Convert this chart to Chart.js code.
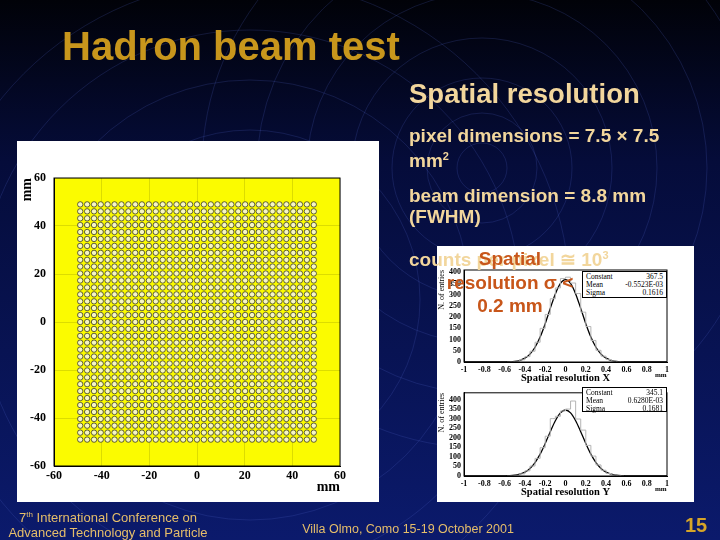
<!DOCTYPE html>
<html>
<head>
<meta charset="utf-8">
<script src="https://cdn.jsdelivr.net/npm/chart.js@4.4.1/dist/chart.umd.min.js"></script>
<style>
html, body { margin: 0; padding: 0; background: #000; }
#slide { position: relative; width: 720px; height: 540px; overflow: hidden; font-family: 'Liberation Sans', Arial, sans-serif; }
#bg { position: absolute; left: 0; top: 0; }
.t { position: absolute; white-space: nowrap; }
.title { left: 62px; top: 26px; font-size: 40px; line-height: 40px; font-weight: bold; color: #c8961c; }
.sub { left: 409px; top: 80px; font-size: 27.5px; line-height: 27px; font-weight: bold; color: #f2d69c; }
.bul { left: 409px; font-size: 19px; line-height: 19px; font-weight: bold; color: #f2d69c; }
.orange { font-size: 19px; line-height: 19px; font-weight: bold; color: #c8561a; text-align: center; width: 160px; left: 430px; }
.frame { position: absolute; background: #fff; }
.stats { position: absolute; background: #fff; border: 1px solid #000; font-family: 'Liberation Serif', serif; font-size: 7.5px; line-height: 8px; color: #000; box-sizing: border-box; padding: 1px 3px; }
.stats div { display: flex; justify-content: space-between; }
.unit { position: absolute; font-family: 'Liberation Serif', serif; font-size: 7px; font-weight: bold; color: #000; }
.foot { color: #e6be6a; font-size: 13px; line-height: 15px; text-align: center; }
canvas.chart { position: absolute; }
</style>
</head>
<body>
<div id="slide">
  <canvas id="bg" width="720" height="540"></canvas>

  <div class="t title">Hadron beam test</div>
  <div class="t sub">Spatial resolution</div>
  <div class="t bul" style="top:126px">pixel dimensions = 7.5 × 7.5</div>
  <div class="t bul" style="top:147px">mm<sup style="font-size:11px">2</sup></div>
  <div class="t bul" style="top:186px">beam dimension = 8.8 mm</div>
  <div class="t bul" style="top:207px">(FWHM)</div>

  <div class="frame" style="left:17px;top:141px;width:362px;height:361px;">
    <canvas id="mapChart" class="chart" width="362" height="361" style="left:0;top:0"></canvas>
  </div>

  <div class="frame" style="left:437px;top:246px;width:257px;height:256px;"></div>
  <canvas id="histX" class="chart" width="257" height="125" style="left:437px;top:262px"></canvas>
  <canvas id="histY" class="chart" width="257" height="117" style="left:437px;top:385px"></canvas>
  <div class="stats" id="statsX" style="left:582px;top:271px;width:85px;height:27px;"></div>
  <div class="stats" id="statsY" style="left:582px;top:387px;width:85px;height:25px;"></div>
  <div class="unit" style="left:655px;top:371px">mm</div>
  <div class="unit" style="left:655px;top:485px">mm</div>

  <div class="t bul" style="top:246px">counts per pixel ≅ 10<sup style="font-size:11px">3</sup></div>
  <div class="t orange" style="top:249px">Spatial</div>
  <div class="t orange" style="top:273px">resolution σ &lt;</div>
  <div class="t orange" style="top:296px">0.2 mm</div>

  <div class="t foot" style="left:0;width:216px;top:507px">7<sup style="font-size:8px">th</sup> International Conference on<br>Advanced Technology and Particle<br>Physics</div>
  <div class="t foot" style="left:280px;width:256px;top:522px;font-size:12.5px">Villa Olmo, Como 15-19 October 2001</div>
  <div class="t" style="left:685px;top:514px;font-size:20px;font-weight:bold;color:#d6a428">15</div>
</div>

<script>
// beam scan positions (mm) in x and y
const gridPositions = [-49.0, -46.1, -43.2, -40.4, -37.5, -34.6, -31.7, -28.8, -25.9, -23.1,
  -20.2, -17.3, -14.4, -11.5, -8.6, -5.8, -2.9, 0.0, 2.9, 5.8, 8.6, 11.5, 14.4, 17.3,
  20.2, 23.1, 25.9, 28.8, 31.7, 34.6, 37.5, 40.4, 43.2, 46.1, 49.0];
const mapTicks = [-60, -40, -20, 0, 20, 40, 60];

// histograms (bin centers in mm, entries)
const histBinCenters = [-0.575, -0.525, -0.475, -0.425, -0.375, -0.325, -0.275, -0.225, -0.175, -0.125, -0.075, -0.025,
  0.025, 0.075, 0.125, 0.175, 0.225, 0.275, 0.325, 0.375, 0.425, 0.475, 0.525, 0.575];
const histXCounts = [0, 1, 4, 10, 24, 48, 88, 150, 212, 282, 330, 372, 378, 352, 305, 222, 158, 96, 52, 26, 11, 5, 1, 0];
const histYCounts = [0, 1, 4, 11, 27, 52, 92, 148, 208, 300, 312, 340, 350, 392, 298, 240, 160, 104, 58, 30, 13, 5, 2, 0];

// gaussian fit curves
const fitPositions = [-1, -0.95, -0.9, -0.85, -0.8, -0.75, -0.7, -0.65, -0.6, -0.55, -0.5, -0.45, -0.4, -0.35, -0.3,
  -0.25, -0.2, -0.15, -0.1, -0.05, 0, 0.05, 0.1, 0.15, 0.2, 0.25, 0.3, 0.35, 0.4, 0.45, 0.5, 0.55, 0.6, 0.65,
  0.7, 0.75, 0.8, 0.85, 0.9, 0.95, 1];
const fitXValues = [0, 0, 0, 0, 0, 0, 0, 0.1, 0.4, 1.1, 3.1, 7.6, 17.2, 35.2, 65.6, 111.1, 170.8, 238.9, 303.4, 350.3,
  367.5, 350.3, 303.4, 238.9, 170.8, 111.1, 65.6, 35.2, 17.2, 7.6, 3.1, 1.1, 0.4, 0.1, 0, 0, 0, 0, 0, 0, 0];
const fitYValues = [0, 0, 0, 0, 0, 0, 0.05, 0.2, 0.6, 1.6, 4.1, 9.6, 20.3, 39.5, 70.2, 114.2, 170.1, 231.8, 289.1, 330.2,
  345.1, 330.2, 289.1, 231.8, 170.1, 114.2, 70.2, 39.5, 20.3, 9.6, 4.1, 1.6, 0.6, 0.2, 0.05, 0, 0, 0, 0, 0, 0];
const histXTicks = [-1, -0.8, -0.6, -0.4, -0.2, 0, 0.2, 0.4, 0.6, 0.8, 1];
const histYTicks = [0, 50, 100, 150, 200, 250, 300, 350, 400];

const statLabels = ['Constant', 'Mean', 'Sigma'];
const statsX = ['367.5', '-0.5523E-03', '0.1616'];
const statsY = ['345.1', '0.6280E-03', '0.1681'];

// background: dark gradient with thin concentric rings
function drawBackground() {
    const ctx = document.getElementById('bg').getContext('2d');
    const g = ctx.createLinearGradient(0, 0, 0, 540);
    g.addColorStop(0, '#010208');
    g.addColorStop(0.3, '#050c3a');
    g.addColorStop(1, '#0b1a6c');
    ctx.fillStyle = g;
    ctx.fillRect(0, 0, 720, 540);
    ctx.strokeStyle = 'rgba(80,100,200,0.35)';
    ctx.lineWidth = 0.6;
    [[250, 300, [70, 120, 170, 220, 270, 320]],
     [482, 168, [25, 55, 90, 130, 175, 225, 280]]].forEach(([cx, cy, radii]) => {
        radii.forEach(r => {
            ctx.beginPath();
            ctx.arc(cx, cy, r, 0, Math.PI * 2);
            ctx.stroke();
        });
    });
}

const framePlugin = {
    id: 'frame',
    beforeDraw(chart, args, opts) {
        const a = chart.chartArea;
        if (opts.fill) {
            chart.ctx.save();
            chart.ctx.fillStyle = opts.fill;
            chart.ctx.fillRect(a.left, a.top, a.right - a.left, a.bottom - a.top);
            chart.ctx.restore();
        }
    },
    afterDraw(chart) {
        const a = chart.chartArea;
        const ctx = chart.ctx;
        ctx.save();
        ctx.strokeStyle = '#000';
        ctx.lineWidth = 1;
        ctx.strokeRect(a.left, a.top, a.right - a.left, a.bottom - a.top);
        ctx.restore();
    }
};

function setTicks(values) {
    return scale => { scale.ticks = values.map(v => ({ value: v })); };
}

function initMap() {
    const rings = [];
    gridPositions.forEach(y => gridPositions.forEach(x => rings.push({ x, y })));
    const serif = { family: "'Liberation Serif', serif", size: 12, weight: 'bold' };
    new Chart(document.getElementById('mapChart'), {
        type: 'scatter',
        data: {
            datasets: [{
                data: rings,
                pointRadius: 2.7,
                pointBorderWidth: 0.8,
                pointBorderColor: '#3a3a22',
                pointBackgroundColor: '#f6f6c4'
            }, {
                data: rings,
                pointRadius: 0.9,
                pointBorderWidth: 0,
                pointBackgroundColor: '#2a2a2a'
            }]
        },
        options: {
            responsive: false,
            animation: false,
            layout: { padding: { left: 0, top: 37, right: 39, bottom: 0 } },
            plugins: { legend: { display: false }, tooltip: { enabled: false }, frame: { fill: '#fbfb00' } },
            scales: {
                x: {
                    type: 'linear', min: -60, max: 60,
                    afterBuildTicks: setTicks(mapTicks),
                    afterFit: s => { s.height = 36; },
                    grid: { color: 'rgba(0,0,0,0.12)', drawTicks: false },
                    border: { color: '#000' },
                    ticks: { color: '#000', font: serif, padding: 3, maxRotation: 0, autoSkip: false },
                    title: { display: true, text: 'mm', align: 'end', color: '#000',
                             font: { family: "'Liberation Serif', serif", size: 14, weight: 'bold' }, padding: { top: 0, bottom: 6 } }
                },
                y: {
                    type: 'linear', min: -60, max: 60,
                    afterBuildTicks: setTicks(mapTicks),
                    afterFit: s => { s.width = 37; },
                    grid: { color: 'rgba(0,0,0,0.12)', drawTicks: false },
                    border: { color: '#000' },
                    ticks: { color: '#000', font: serif, padding: 8, autoSkip: false },
                    title: { display: true, text: 'mm', align: 'end', color: '#000',
                             font: { family: "'Liberation Serif', serif", size: 14, weight: 'bold' }, padding: { top: 2, bottom: 0 } }
                }
            }
        },
        plugins: [framePlugin]
    });
}

function initHist(id, counts, fit, max, padTop, axisHeight, label, titlePad) {
    const small = { family: "'Liberation Serif', serif", size: 8, weight: 'bold' };
    new Chart(document.getElementById(id), {
        type: 'line',
        data: {
            datasets: [{
                data: histBinCenters.map((x, i) => ({ x, y: counts[i] })),
                stepped: 'middle',
                borderColor: '#b4b4b4',
                borderWidth: 1,
                pointRadius: 0
            }, {
                data: fitPositions.map((x, i) => ({ x, y: fit[i] })),
                cubicInterpolationMode: 'monotone',
                borderColor: '#000',
                borderWidth: 1.3,
                pointRadius: 0
            }]
        },
        options: {
            responsive: false,
            animation: false,
            layout: { padding: { left: 0, top: padTop, right: 27, bottom: 0 } },
            plugins: { legend: { display: false }, tooltip: { enabled: false }, frame: {} },
            scales: {
                x: {
                    type: 'linear', min: -1, max: 1,
                    afterBuildTicks: setTicks(histXTicks),
                    afterFit: s => { s.height = axisHeight; },
                    grid: { display: false, drawTicks: false },
                    border: { color: '#000' },
                    ticks: { color: '#000', font: small, padding: 3, maxRotation: 0, autoSkip: false,
                             callback: v => String(v) },
                    title: { display: true, text: label, color: '#000',
                             font: { family: "'Liberation Serif', serif", size: 10.5, weight: 'bold' }, padding: { top: 0, bottom: titlePad } }
                },
                y: {
                    type: 'linear', min: 0, max: max,
                    afterBuildTicks: setTicks(histYTicks),
                    afterFit: s => { s.width = 27; },
                    grid: { display: false, drawTicks: false },
                    border: { color: '#000' },
                    ticks: { color: '#000', font: small, padding: 3, autoSkip: false },
                    title: { display: true, text: 'N. of entries', align: 'end', color: '#000',
                             font: { family: "'Liberation Serif', serif", size: 8 }, padding: { top: 0, bottom: 0 } }
                }
            }
        },
        plugins: [framePlugin]
    });
}

function fillStats(id, values) {
    document.getElementById(id).innerHTML = statLabels
        .map((l, i) => `<div><span>${l}</span><span>${values[i]}</span></div>`).join('');
}

drawBackground();
initMap();
initHist('histX', histXCounts, fitXValues, 410, 8, 25, 'Spatial resolution X', 2);
initHist('histY', histYCounts, fitYValues, 435, 3, 26, 'Spatial resolution Y', 3);
fillStats('statsX', statsX);
fillStats('statsY', statsY);
</script>
</body>
</html>
